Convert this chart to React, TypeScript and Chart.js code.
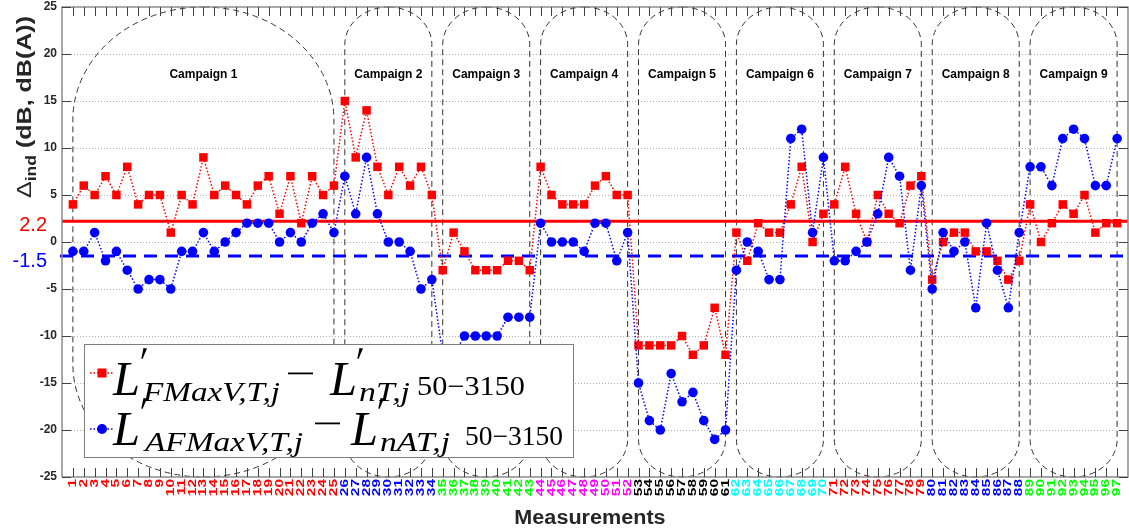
import React, { useEffect, useRef } from "react";
import { Chart, registerables } from "chart.js";
Chart.register(...registerables);

const measurements = [
  1, 2, 3, 4, 5, 6, 7, 8, 9, 10, 11, 12, 13, 14, 15, 16, 17, 18, 19, 20, 21, 22, 23, 24, 25,
  26, 27, 28, 29, 30, 31, 32, 33, 34, 35, 36, 37, 38, 39, 40, 41, 42, 43, 44, 45, 46, 47, 48,
  49, 50, 51, 52, 53, 54, 55, 56, 57, 58, 59, 60, 61, 62, 63, 64, 65, 66, 67, 68, 69, 70, 71,
  72, 73, 74, 75, 76, 77, 78, 79, 80, 81, 82, 83, 84, 85, 86, 87, 88, 89, 90, 91, 92, 93, 94,
  95, 96, 97,
];

// L'FMaxV,T,j - L'nT,j (red squares)
const deltaF = [
  4, 6, 5, 7, 5, 8, 4, 5, 5, 1, 5, 4, 9, 5, 6, 5, 4, 6, 7, 3, 7, 2, 7, 5, 6,
  15, 9, 14, 8, 5, 8, 6, 8, 5,
  -3, 1, -1, -3, -3, -3, -2, -2, -3,
  8, 5, 4, 4, 4, 6, 7, 5, 5,
  -11, -11, -11, -11, -10, -12, -11, -7, -12,
  1, -2, 2, 1, 1, 4, 8, 0, 3,
  4, 8, 3, 0, 5, 3, 2, 6, 7,
  -4, 0, 1, 1, -1, -1, -2, -4, -2,
  4, 0, 2, 4, 3, 5, 1, 2, 2,
];

// L'AFMaxV,T,j - L'nAT,j (blue circles)
const deltaAF = [
  -1, -1, 1, -2, -1, -3, -5, -4, -4, -5, -1, -1, 1, -1, 0, 1, 2, 2, 2, 0, 1, 0, 2, 3, 1,
  7, 3, 9, 3, 0, 0, -1, -5, -4,
  -12, -12, -10, -10, -10, -10, -8, -8, -8,
  2, 0, 0, 0, -1, 2, 2, -2, 1,
  -15, -19, -20, -14, -17, -16, -19, -21, -20,
  -3, 0, -1, -4, -4, 11, 12, 1, 9,
  -2, -2, -1, 0, 3, 9, 7, -3, 6,
  -5, 1, -1, 0, -7, 2, -3, -7, 1,
  8, 8, 6, 11, 12, 11, 6, 6, 11,
];

const meanF = 2.2;
const meanAF = -1.5;
const meanFLabel = "2.2";
const meanAFLabel = "-1.5";

const campaignNames = [
  "Campaign 1", "Campaign 2", "Campaign 3", "Campaign 4", "Campaign 5",
  "Campaign 6", "Campaign 7", "Campaign 8", "Campaign 9",
];
const campaignStart = [1, 26, 35, 44, 53, 62, 71, 80, 89];
const campaignEnd = [25, 34, 43, 52, 61, 70, 79, 88, 97];
const campaignColors = [
  "#ff0000", "#0000ff", "#00ff00", "#ff00ff", "#000000",
  "#00ffff", "#ff0000", "#0000ff", "#00ff00",
];

const yTicks = [25, 20, 15, 10, 5, 0, -5, -10, -15, -20, -25];
const yMin = -25;
const yMax = 25;
const xMin = 0;
const xMax = 98;

const yTitleMain = "Δ";
const yTitleSub = "ind";
const yTitleRest = " (dB, dB(A))";
const xTitle = "Measurements";

const SANS = '"Liberation Sans", Arial, sans-serif';
const SERIF = '"Liberation Serif", "Times New Roman", serif';
const TEXT = "#262626";

function colorFor(m: number): string {
  for (let k = 0; k < campaignStart.length; k++) {
    if (m >= campaignStart[k] && m <= campaignEnd[k]) return campaignColors[k];
  }
  return TEXT;
}

function fitText(
  ctx: CanvasRenderingContext2D,
  text: string,
  x: number,
  baseline: number,
  targetW: number,
  font: string,
  color: string
) {
  ctx.save();
  ctx.font = font;
  ctx.fillStyle = color;
  ctx.textAlign = "left";
  ctx.textBaseline = "alphabetic";
  const w = ctx.measureText(text).width || 1;
  ctx.translate(x, baseline);
  ctx.scale(targetW / w, 1);
  ctx.fillText(text, 0, 0);
  ctx.restore();
}

function ellRect(
  ctx: CanvasRenderingContext2D,
  x0: number,
  y0: number,
  x1: number,
  y1: number,
  rx: number,
  ry: number
) {
  ctx.beginPath();
  ctx.moveTo(x0 + rx, y0);
  ctx.lineTo(x1 - rx, y0);
  ctx.ellipse(x1 - rx, y0 + ry, rx, ry, 0, -Math.PI / 2, 0);
  ctx.lineTo(x1, y1 - ry);
  ctx.ellipse(x1 - rx, y1 - ry, rx, ry, 0, 0, Math.PI / 2);
  ctx.lineTo(x0 + rx, y1);
  ctx.ellipse(x0 + rx, y1 - ry, rx, ry, 0, Math.PI / 2, Math.PI);
  ctx.lineTo(x0, y0 + ry);
  ctx.ellipse(x0 + rx, y0 + ry, rx, ry, 0, Math.PI, Math.PI * 1.5);
  ctx.closePath();
}

const backgroundPlugin = {
  id: "bgDecor",
  beforeDatasetsDraw(chart: any) {
    const { ctx, chartArea } = chart;
    const xs = chart.scales.x;
    const ys = chart.scales.y;
    ctx.save();
    // grid
    ctx.strokeStyle = "#b0b0b0";
    ctx.lineWidth = 1;
    ctx.setLineDash([1, 2]);
    for (const t of yTicks) {
      if (t === yMin || t === yMax) continue;
      const y = Math.round(ys.getPixelForValue(t)) + 0.5;
      ctx.beginPath();
      ctx.moveTo(chartArea.left, y);
      ctx.lineTo(chartArea.right, y);
      ctx.stroke();
    }
    // campaign boxes
    ctx.setLineDash([6, 4]);
    ctx.strokeStyle = "#333333";
    ctx.lineWidth = 1;
    const pxPerY = Math.abs(ys.getPixelForValue(1) - ys.getPixelForValue(0));
    for (let k = 0; k < campaignStart.length; k++) {
      const x0 = xs.getPixelForValue(campaignStart[k]);
      const x1 = xs.getPixelForValue(campaignEnd[k]);
      const y0 = ys.getPixelForValue(yMax);
      const y1 = ys.getPixelForValue(yMin);
      const halfUnits = (campaignEnd[k] - campaignStart[k]) / 2;
      const rx = (x1 - x0) / 2;
      const ry = halfUnits * pxPerY;
      ellRect(ctx, x0, y0, x1, y1, rx, ry);
      ctx.stroke();
    }
    ctx.setLineDash([]);
    // campaign labels
    ctx.fillStyle = "#000";
    ctx.font = "bold 12px " + SANS;
    ctx.textAlign = "center";
    ctx.textBaseline = "middle";
    for (let k = 0; k < campaignStart.length; k++) {
      const cx = (xs.getPixelForValue(campaignStart[k]) + xs.getPixelForValue(campaignEnd[k])) / 2;
      ctx.fillText(campaignNames[k], cx, 75);
    }
    // mean lines
    const yF = ys.getPixelForValue(meanF);
    ctx.strokeStyle = "#ff0000";
    ctx.lineWidth = 3;
    ctx.beginPath();
    ctx.moveTo(chartArea.left, yF);
    ctx.lineTo(chartArea.right, yF);
    ctx.stroke();
    const yA = ys.getPixelForValue(meanAF);
    ctx.strokeStyle = "#0000ff";
    ctx.setLineDash([13, 8]);
    ctx.beginPath();
    ctx.moveTo(chartArea.left - 2, yA);
    ctx.lineTo(chartArea.right, yA);
    ctx.stroke();
    ctx.setLineDash([]);
    ctx.restore();
  },
};

const axesPlugin = {
  id: "axesDecor",
  afterDatasetsDraw(chart: any) {
    const { ctx, chartArea } = chart;
    const xs = chart.scales.x;
    const ys = chart.scales.y;
    ctx.save();
    // box
    ctx.strokeStyle = "#8c8c8c";
    ctx.lineWidth = 1.5;
    ctx.beginPath();
    ctx.moveTo(chartArea.left, chartArea.bottom);
    ctx.lineTo(chartArea.left, chartArea.top);
    ctx.lineTo(chartArea.right, chartArea.top);
    ctx.lineTo(chartArea.right, chartArea.bottom);
    ctx.lineTo(chartArea.left, chartArea.bottom);
    ctx.stroke();
    // x ticks (inside, top & bottom)
    ctx.strokeStyle = "#404040";
    ctx.lineWidth = 1;
    for (const m of measurements) {
      const x = Math.round(xs.getPixelForValue(m)) + 0.5;
      ctx.beginPath();
      ctx.moveTo(x, chartArea.bottom);
      ctx.lineTo(x, chartArea.bottom - 9);
      ctx.moveTo(x, chartArea.top);
      ctx.lineTo(x, chartArea.top + 9);
      ctx.stroke();
    }
    // y ticks (inside, left)
    for (const t of yTicks) {
      const y = Math.round(ys.getPixelForValue(t)) + 0.5;
      ctx.beginPath();
      ctx.moveTo(chartArea.left, y);
      ctx.lineTo(chartArea.left + 9, y);
      ctx.moveTo(chartArea.right, y);
      ctx.lineTo(chartArea.right - 9, y);
      ctx.stroke();
    }
    // y tick labels
    ctx.fillStyle = TEXT;
    ctx.font = "bold 12px " + SANS;
    ctx.textAlign = "right";
    ctx.textBaseline = "middle";
    for (const t of yTicks) {
      ctx.fillText(String(t), chartArea.left - 5, ys.getPixelForValue(t));
    }
    // x tick labels (rotated, colored per campaign)
    ctx.font = "bold 11px " + SANS;
    for (const m of measurements) {
      const x = xs.getPixelForValue(m);
      ctx.save();
      ctx.translate(x, chartArea.bottom + 2);
      ctx.rotate(-Math.PI / 2);
      ctx.scale(1.4, 1);
      ctx.textAlign = "right";
      ctx.textBaseline = "middle";
      ctx.fillStyle = colorFor(m);
      ctx.fillText(String(m), 0, 0);
      ctx.restore();
    }
    // mean labels
    ctx.font = "20px " + SANS;
    ctx.textAlign = "right";
    ctx.textBaseline = "middle";
    ctx.fillStyle = "#ff0000";
    ctx.fillText(meanFLabel, 47, ys.getPixelForValue(meanF) + 4);
    ctx.fillStyle = "#0000ff";
    ctx.fillText(meanAFLabel, 47, ys.getPixelForValue(meanAF) + 5);

    // x title
    ctx.fillStyle = TEXT;
    ctx.font = "bold 20px " + SANS;
    ctx.textAlign = "center";
    ctx.textBaseline = "middle";
    ctx.save();
    ctx.translate(590, 518);
    ctx.scale(1.08, 1.05);
    ctx.fillText(xTitle, 0, 0);
    ctx.restore();

    // y title (rotated)
    ctx.save();
    ctx.translate(24, 107);
    ctx.rotate(-Math.PI / 2);
    const fMain = "20px " + SANS;
    const fSub = "bold 14px " + SANS;
    const fRest = "bold 20px " + SANS;
    ctx.font = fMain;
    const w1 = ctx.measureText(yTitleMain).width;
    ctx.font = fSub;
    const w2 = ctx.measureText(yTitleSub).width;
    ctx.font = fRest;
    const w3 = ctx.measureText(yTitleRest).width;
    const total = w1 + w2 + w3;
    const s = 182 / total;
    ctx.scale(s, 1);
    ctx.textAlign = "left";
    ctx.textBaseline = "alphabetic";
    ctx.fillStyle = TEXT;
    let cx = -total / 2;
    ctx.font = fMain;
    ctx.fillText(yTitleMain, cx, 7);
    cx += w1;
    ctx.font = fSub;
    ctx.fillText(yTitleSub, cx, 12);
    cx += w2;
    ctx.font = fRest;
    ctx.fillText(yTitleRest, cx, 7);
    ctx.restore();

    ctx.restore();
  },
};

function drawPrime(ctx: CanvasRenderingContext2D, x: number, top: number) {
  ctx.beginPath();
  ctx.moveTo(x + 2.5, top);
  ctx.lineTo(x + 6, top + 0.5);
  ctx.lineTo(x + 1.5, top + 11);
  ctx.lineTo(x + 0.3, top + 10.5);
  ctx.closePath();
  ctx.fill();
}

const legendPlugin = {
  id: "mathLegend",
  afterDraw(chart: any) {
    const { ctx } = chart;
    ctx.save();
    // box
    ctx.fillStyle = "#ffffff";
    ctx.fillRect(84, 344, 490, 114);
    ctx.strokeStyle = "#7f7f7f";
    ctx.lineWidth = 1;
    ctx.strokeRect(84.5, 344.5, 489, 113);

    // markers
    const rows = [
      { y: 373, color: "#ff0000", square: true },
      { y: 429, color: "#0000ff", square: false },
    ];
    for (const r of rows) {
      ctx.strokeStyle = r.color;
      ctx.lineWidth = 1.5;
      ctx.setLineDash([1.5, 2]);
      ctx.beginPath();
      ctx.moveTo(90, r.y);
      ctx.lineTo(114, r.y);
      ctx.stroke();
      ctx.setLineDash([]);
      ctx.fillStyle = r.color;
      if (r.square) {
        ctx.fillRect(97.5, r.y - 4.5, 9, 9);
      } else {
        ctx.beginPath();
        ctx.arc(102, r.y, 5, 0, Math.PI * 2);
        ctx.fill();
      }
    }

    const bigL = "italic 48px " + SERIF;
    const subF = "italic 27px " + SERIF;
    const numF = "27px " + SERIF;
    const black = "#000";

    const drawRow = (
      dy: number,
      sub1: string,
      sub1x: number,
      sub1W: number,
      minusX: number,
      l2x: number,
      sub2: string,
      sub2x: number,
      sub2W: number,
      numX: number,
      numW: number
    ) => {
      const base = 395 + dy;
      ctx.fillStyle = black;
      fitText(ctx, "L", 113, base, 27, bigL, black);
      drawPrime(ctx, 141, base - 47);
      fitText(ctx, sub1, sub1x, base + 6, sub1W, subF, black);
      ctx.fillStyle = black;
      ctx.fillRect(minusX, base - 22.5, 25, 1.8);
      fitText(ctx, "L", l2x, base, 27, bigL, black);
      ctx.fillStyle = black;
      drawPrime(ctx, l2x + 27, base - 47);
      fitText(ctx, sub2, sub2x, base + 6, sub2W, subF, black);
      fitText(ctx, "50−3150", numX, base, numW, numF, black);
    };
    drawRow(0, "FMaxV,T,j", 143, 137, 288, 330, "nT,j", 359, 51, 417, 108);
    drawRow(50, "AFMaxV,T,j", 145, 158, 315, 351, "nAT,j", 380, 70, 465, 98);
    ctx.restore();
  },
};

export default function App() {
  const ref = useRef<HTMLCanvasElement | null>(null);
  useEffect(() => {
    if (!ref.current) return;
    const chart = new Chart(ref.current, {
      type: "line",
      data: {
        datasets: [
          {
            label: "AF",
            data: measurements.map((m, i) => ({ x: m, y: deltaAF[i] })),
            borderColor: "#0000ff",
            backgroundColor: "#0000ff",
            borderWidth: 1.5,
            borderDash: [1.5, 2],
            pointStyle: "circle",
            pointRadius: 4.8,
            pointBorderWidth: 0,
            pointBackgroundColor: "#0000ff",
            tension: 0,
          },
          {
            label: "F",
            data: measurements.map((m, i) => ({ x: m, y: deltaF[i] })),
            borderColor: "#ff0000",
            backgroundColor: "#ff0000",
            borderWidth: 1.5,
            borderDash: [1.5, 2],
            pointStyle: "rect",
            pointRadius: 6,
            pointBorderWidth: 0,
            pointBackgroundColor: "#ff0000",
            tension: 0,
          },
        ],
      },
      options: {
        responsive: false,
        maintainAspectRatio: false,
        devicePixelRatio: 1,
        animation: false,
        layout: { padding: { left: 62, top: 7, right: 1, bottom: 55 } },
        scales: {
          x: { type: "linear", min: xMin, max: xMax, display: false },
          y: { type: "linear", min: yMin, max: yMax, display: false },
        },
        plugins: {
          legend: { display: false },
          tooltip: { enabled: false },
        },
      },
      plugins: [backgroundPlugin, axesPlugin, legendPlugin],
    });
    return () => chart.destroy();
  }, []);

  return (
    <div
      style={{
        position: "fixed",
        left: 0,
        top: 0,
        width: 1129,
        height: 532,
        overflow: "hidden",
        background: "#ffffff",
      }}
    >
      <canvas ref={ref} width={1134} height={532} style={{ width: 1134, height: 532, display: "block" }} />
    </div>
  );
}
